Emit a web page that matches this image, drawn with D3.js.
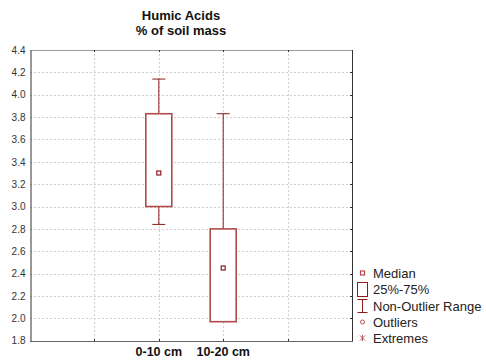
<!DOCTYPE html>
<html>
<head>
<meta charset="utf-8">
<script src="https://cdn.jsdelivr.net/npm/d3@7"></script>
<style>
  html, body { margin: 0; padding: 0; background: #fff; }
  svg { display: block; font-family: Arial, "Liberation Sans", sans-serif; }
</style>
</head>
<body>
<svg id="chart" width="486" height="360"></svg>
<script>
// Humic acid content (% of soil mass) by soil depth
const categories = ["0-10 cm", "10-20 cm"];
const medians    = [3.30, 2.45];
const q1         = [3.00, 1.97];
const q3         = [3.83, 2.80];
const whiskerLow = [2.84, 1.97];
const whiskerHigh= [4.14, 3.83];
const yTicks     = [1.8, 2.0, 2.2, 2.4, 2.6, 2.8, 3.0, 3.2, 3.4, 3.6, 3.8, 4.0, 4.2, 4.4];
const titleLines = ["Humic Acids", "% of soil mass"];
const legendItems = ["Median", "25%-75%", "Non-Outlier Range", "Outliers", "Extremes"];

const svg = d3.select("#chart");
const m = { left: 30, right: 352, top: 50, bottom: 340.7 };

const boxColor = "#b34a4a";
const whiskerColor = "#8c1c1c";

// category index -> x; the axis spans five slots with the boxes in the middle two
const x = d3.scaleLinear().domain([-2, 3]).range([m.left, m.right]);
const y = d3.scaleLinear().domain([1.8, 4.4]).range([m.bottom, m.top]);

// grid
const grid = svg.append("g").attr("stroke", "#cfcfcf").attr("stroke-dasharray", "2,2").attr("stroke-width", 1);
yTicks.slice(1, -1).forEach(t => {
  grid.append("line").attr("x1", m.left).attr("x2", m.right)
    .attr("y1", Math.round(y(t)) + 0.5).attr("y2", Math.round(y(t)) + 0.5);
});
[-1, 0, 1, 2].forEach(t => {
  grid.append("line").attr("y1", m.top).attr("y2", m.bottom)
    .attr("x1", Math.round(x(t)) + 0.5).attr("x2", Math.round(x(t)) + 0.5);
});

// frame
svg.append("line").attr("x1", m.left).attr("x2", m.right).attr("y1", m.top + 0.5).attr("y2", m.top + 0.5)
  .attr("stroke", "#9a9a9a");
svg.append("line").attr("x1", m.right + 0.5).attr("x2", m.right + 0.5).attr("y1", m.top).attr("y2", Math.round(m.bottom) + 1)
  .attr("stroke", "#333");
svg.append("line").attr("x1", m.left).attr("x2", m.right + 1).attr("y1", Math.round(m.bottom) + 0.5).attr("y2", Math.round(m.bottom) + 0.5)
  .attr("stroke", "#666");

// y axis
const yAxis = d3.axisLeft(y).tickValues(yTicks).tickFormat(d3.format(".1f")).tickSize(0).tickPadding(5);
const gy = svg.append("g").attr("transform", `translate(${m.left + 0.5},0)`).call(yAxis);
gy.select(".domain").attr("stroke", "#333");
gy.selectAll("text").attr("font-size", 10).attr("fill", "#333");

// small inward ticks on the right and top/bottom edges
yTicks.slice(1, -1).forEach(t => {
  svg.append("line").attr("x1", m.right - 2).attr("x2", m.right)
    .attr("y1", Math.round(y(t)) + 0.5).attr("y2", Math.round(y(t)) + 0.5).attr("stroke", "#333");
});
[-1, 0, 1, 2].forEach(t => {
  svg.append("line").attr("x1", Math.round(x(t)) + 0.5).attr("x2", Math.round(x(t)) + 0.5)
    .attr("y1", Math.round(m.bottom) - 2).attr("y2", Math.round(m.bottom)).attr("stroke", "#333");
  svg.append("line").attr("x1", Math.round(x(t)) + 0.5).attr("x2", Math.round(x(t)) + 0.5)
    .attr("y1", m.top).attr("y2", m.top + 2).attr("stroke", "#333");
});

// x category labels
svg.append("g").selectAll("text").data(categories).join("text")
  .attr("x", (d, i) => x(i)).attr("y", 355.5)
  .attr("text-anchor", "middle").attr("font-size", 12.5).attr("font-weight", "bold").attr("fill", "#111")
  .text(d => d);

// title
svg.append("g").selectAll("text").data(titleLines).join("text")
  .attr("x", 181).attr("y", (d, i) => 20 + i * 15)
  .attr("text-anchor", "middle").attr("font-size", 13).attr("font-weight", "bold").attr("fill", "#111")
  .text(d => d);

// boxes
const boxW = 26, capW = 13;
const boxes = svg.append("g");
categories.forEach((c, i) => {
  const cx = x(i);
  boxes.append("line").attr("x1", cx).attr("x2", cx)
    .attr("y1", y(whiskerHigh[i])).attr("y2", y(q3[i])).attr("stroke", whiskerColor);
  boxes.append("line").attr("x1", cx).attr("x2", cx)
    .attr("y1", y(q1[i])).attr("y2", y(whiskerLow[i])).attr("stroke", whiskerColor);
  boxes.append("line").attr("x1", cx - capW / 2).attr("x2", cx + capW / 2)
    .attr("y1", y(whiskerHigh[i])).attr("y2", y(whiskerHigh[i])).attr("stroke", whiskerColor);
  if (whiskerLow[i] < q1[i]) {
    boxes.append("line").attr("x1", cx - capW / 2).attr("x2", cx + capW / 2)
      .attr("y1", y(whiskerLow[i])).attr("y2", y(whiskerLow[i])).attr("stroke", whiskerColor);
  }
  boxes.append("rect").attr("x", cx - boxW / 2).attr("width", boxW)
    .attr("y", y(q3[i])).attr("height", y(q1[i]) - y(q3[i]))
    .attr("fill", "#fff").attr("stroke", boxColor).attr("stroke-width", 1.6);
  boxes.append("rect").attr("x", cx - 2).attr("y", y(medians[i]) - 2).attr("width", 4).attr("height", 4)
    .attr("fill", "#fff").attr("stroke", whiskerColor).attr("stroke-width", 1.2);
});

// legend
const lg = svg.append("g").attr("font-size", 13).attr("fill", "#222");
const lx = 362.5, ly = [273, 289.5, 306, 322, 338];
lg.append("rect").attr("x", lx - 2).attr("y", ly[0] - 2).attr("width", 4).attr("height", 4)
  .attr("fill", "#fff").attr("stroke", boxColor).attr("stroke-width", 1.2);
lg.append("rect").attr("x", lx - 5).attr("y", ly[1] - 7).attr("width", 10).attr("height", 14)
  .attr("fill", "#fff").attr("stroke", whiskerColor).attr("stroke-width", 1);
lg.append("path").attr("d", `M${lx - 5},${ly[2] - 6.5}H${lx + 5}M${lx},${ly[2] - 6.5}V${ly[2] + 6.5}M${lx - 5},${ly[2] + 6.5}H${lx + 5}`)
  .attr("stroke", whiskerColor).attr("fill", "none");
lg.append("circle").attr("cx", lx).attr("cy", ly[3]).attr("r", 2).attr("fill", "none").attr("stroke", boxColor);
lg.append("path").attr("d", `M${lx - 2.5},${ly[4] - 2.5}L${lx + 2.5},${ly[4] + 2.5}M${lx + 2.5},${ly[4] - 2.5}L${lx - 2.5},${ly[4] + 2.5}M${lx},${ly[4] - 3}V${ly[4] + 3}`)
  .attr("stroke", boxColor).attr("fill", "none").attr("stroke-width", 0.9);
lg.selectAll("text").data(legendItems).join("text")
  .attr("x", 373).attr("y", (d, i) => ly[i] + 4.5)
  .text(d => d);
</script>
</body>
</html>
